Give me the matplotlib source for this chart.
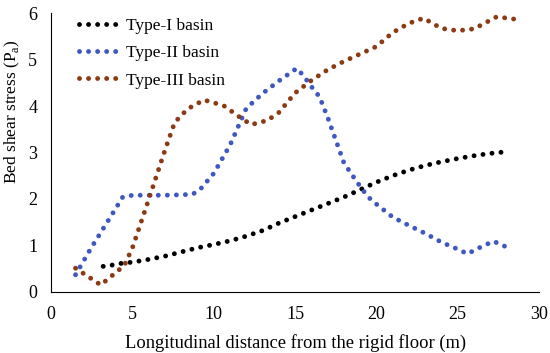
import matplotlib
matplotlib.use('Agg')
import matplotlib.pyplot as plt

#Dados:
x1 = [3.2, 3.8, 4.4, 5, 6, 7, 8, 9, 10, 11, 12, 13, 14, 15, 16, 17, 18, 19, 20, 21, 22, 23, 24, 25, 26, 27, 28.1]
y1 = [0.55, 0.58, 0.62, 0.64, 0.7, 0.77, 0.86, 0.95, 1.02, 1.1, 1.2, 1.32, 1.48, 1.62, 1.76, 1.9, 2.04, 2.2, 2.36, 2.5, 2.62, 2.72, 2.8, 2.87, 2.93, 2.98, 3.02]

x2 = [1.5, 2.5, 3.5, 4.4, 5, 6, 7, 8, 8.7, 9.2, 10, 11, 12, 13, 14, 15.1, 15.5, 16, 16.5, 17, 17.5, 18, 18.5, 19, 19.5, 20, 21, 22, 23, 24, 25, 25.6, 26.5, 27.2, 28.3]
y2 = [0.37, 0.97, 1.53, 2.04, 2.08, 2.08, 2.08, 2.09, 2.1, 2.22, 2.55, 3.16, 3.95, 4.27, 4.54, 4.81, 4.66, 4.42, 4.2, 3.76, 3.27, 2.78, 2.52, 2.27, 2.04, 1.89, 1.61, 1.43, 1.26, 1.07, 0.92, 0.82, 0.98, 1.09, 0.92]

x3 = [1.5, 3.05, 4.5, 5.0, 6.0, 7.0, 7.6, 8.4, 9.4, 10.6, 11.6, 12.3, 13.3, 14, 15, 16, 17, 18, 19, 20, 21, 22, 22.9, 24, 25, 26, 27.4, 28.7]
y3 = [0.51, 0.15, 0.57, 0.95, 1.99, 3.05, 3.65, 3.94, 4.13, 4.01, 3.76, 3.6, 3.69, 3.86, 4.28, 4.55, 4.78, 4.96, 5.12, 5.28, 5.58, 5.78, 5.89, 5.67, 5.62, 5.66, 5.92, 5.86]

labels = ['Type-I basin', 'Type-II basin', 'Type-III basin']
colors = ['#000000', '#3F57C0', '#8B3A14']

plt.rcParams['font.family'] = 'Liberation Serif'

fig = plt.figure(figsize=(5.5, 3.53), dpi=100)
ax = fig.add_axes([0.093, 0.173, 0.887, 0.79])

dots = (0, (0.01, 1.85))
for x, y, c, lab in zip([x1, x2, x3], [y1, y2, y3], colors, labels):
    ax.plot(x, y, color=c, lw=3.5, linestyle=dots, dash_capstyle='round', label=lab)

ax.set_xlim(0, 30)
ax.set_ylim(0, 6)
ax.set_xticks(range(0, 31, 5))
ax.set_yticks(range(0, 7))
ax.tick_params(length=0, labelsize=13, pad=10)
ax.spines['top'].set_visible(False)
ax.spines['right'].set_visible(False)
ax.set_xlabel('Longitudinal distance from the rigid floor (m)', fontsize=13.3, labelpad=8)
ax.set_ylabel('Bed shear stress (P$_\\mathregular{a}$)', fontsize=12.5)
ax.yaxis.set_label_coords(-0.06, 0.645)
ax.legend(loc='upper left', frameon=False, fontsize=12.5, handlelength=2.5,
          bbox_to_anchor=(0.025, 1.04), labelspacing=0.65, handletextpad=0.2)

fig.savefig('out.png', dpi=100)
